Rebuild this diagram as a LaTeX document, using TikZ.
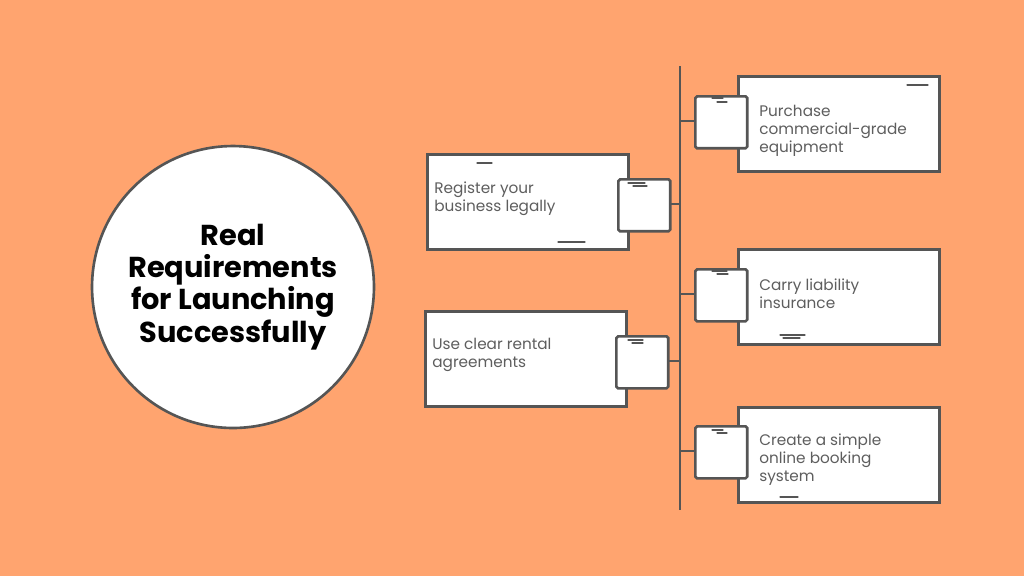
\documentclass[tikz,border=0pt]{standalone}
\usepackage{fontspec}
\setmainfont{Poppins}
\usetikzlibrary{positioning}
\definecolor{bgorange}{HTML}{FFA46F}
\definecolor{inkgray}{HTML}{555555}
\definecolor{txtgray}{HTML}{5E5E5E}
\tikzset{
  card/.style={draw=inkgray, line width=1.5pt, fill=white, minimum width=4.02cm,
    minimum height=1.9cm, anchor=north west, inner sep=0pt},
  tab/.style={draw=inkgray, line width=1.5pt, fill=white, minimum size=1.04cm,
    anchor=north west, inner sep=0pt, rounded corners=1pt},
  cardtext/.style={text=txtgray, font=\fontsize{8.7}{10.2}\selectfont, align=left,
    anchor=west, inner sep=0pt},
  spine/.style={draw=inkgray, line width=1.5pt},
  scribble/.style={draw=inkgray, line width=0.6pt, line cap=round},
}
\begin{document}
\begin{tikzpicture}[x=0.02cm,y=-0.02cm]
\fill[bgorange] (0,0) rectangle (1024,576);
\useasboundingbox (0,0) rectangle (1024,576);
% hub
\node[circle, draw=inkgray, line width=1.5pt, fill=white, minimum size=5.64cm, inner sep=0pt,
  align=center, font=\fontsize{16.4}{18.3}\selectfont\bfseries, text=black] (hub) at (233,287)
  {Real\\Requirements\\for Launching\\Successfully};
% spine
\coordinate (spinetop) at (680,66);
\coordinate (spinebot) at (680,510);
\draw[spine] (spinetop) -- (spinebot);
% left cards
\foreach \n/\bx/\by/\tx/\ty/\dy/\txt in {L1/426/153/617/178/0.06/{Register your\\business legally},
  L2/424/310/615/335/0.08/{Use clear rental\\agreements}} {
  \node[card] (card\n) at (\bx,\by) {};
  \node[cardtext] (text\n) at ([xshift=0.16cm,yshift=\dy cm]card\n.west) {\txt};
  \draw[spine] (\tx+52,\ty+26) coordinate (join\n) -- (join\n -| spinetop);
  \node[tab] (tab\n) at (\tx,\ty) {};
}
% right cards
\foreach \n/\bx/\by/\tx/\ty/\dy/\txt in {R1/737/75/694/95/-0.14/{Purchase\\commercial-grade\\equipment},
  R2/737/248/694/268/0.06/{Carry liability\\insurance},
  R3/737/406/694/425/-0.10/{Create a simple\\online booking\\system}} {
  \node[card] (card\n) at (\bx,\by) {};
  \node[cardtext] (text\n) at ([xshift=0.44cm,yshift=\dy cm]card\n.west) {\txt};
  \draw[spine] (\tx,\ty+26) coordinate (join\n) -- (join\n -| spinetop);
  \node[tab] (tab\n) at (\tx,\ty) {};
}
% sketch marks
\foreach \xa/\ya/\xb in {477/163/492, 558/242/585, 628/183/645, 633/186/647,
  907/85/928, 712/98/723, 717/102/727,
  628/340/643, 632/343/643,
  712/271/727, 717/274/728, 780/335/805, 783/338/800,
  712/430/723, 717/433/727, 780/497/798} {
  \draw[scribble] (\xa,\ya) -- (\xb,\ya);
}
\end{tikzpicture}
\end{document}
